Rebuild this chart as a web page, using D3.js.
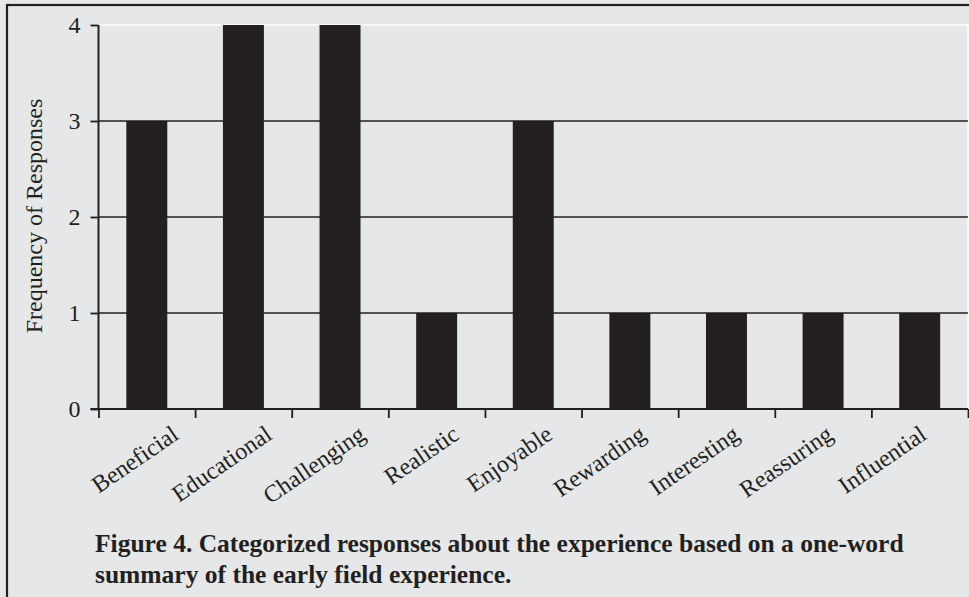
<!DOCTYPE html>
<html>
<head>
<meta charset="utf-8">
<script src="https://cdn.jsdelivr.net/npm/d3@7"></script>
<style>
  html, body { margin: 0; padding: 0; background: #e6e7e8; }
  svg { display: block; }
  text { font-family: "Liberation Serif", "Times New Roman", serif; fill: #231f20; }
</style>
</head>
<body>
<svg id="chart" width="969" height="597"></svg>
<script>
const categories = ["Beneficial", "Educational", "Challenging", "Realistic", "Enjoyable",
                    "Rewarding", "Interesting", "Reassuring", "Influential"];
const values = [3, 4, 4, 1, 3, 1, 1, 1, 1];
const yTicks = [0, 1, 2, 3, 4];
const yTitle = "Frequency of Responses";
const captionLines = [
  "Figure 4. Categorized responses about the experience based on a one-word",
  "summary of the early field experience."
];

const ink = "#231f20";
const svg = d3.select("#chart");
const W = 969, H = 597;

svg.append("rect").attr("width", W).attr("height", H).attr("fill", "#e6e7e8");
// figure frame (extends past the picture edges on right/bottom)
svg.append("rect").attr("x", 7).attr("y", 5).attr("width", W + 20).attr("height", H + 20)
  .attr("fill", "none").attr("stroke", ink).attr("stroke-width", 2.2);

const plot = { left: 98.5, right: 968, top: 25, bottom: 409 };

const x = d3.scaleBand().domain(categories).range([plot.left, plot.right])
  .paddingInner(0.576).paddingOuter(0.288);
const xEdge = d3.scaleLinear().domain([0, categories.length]).range([plot.left, plot.right]);
const y = d3.scaleLinear().domain([0, 4]).range([plot.bottom, plot.top]);
// label anchor positions (labels sit slightly compressed relative to the bands)
const xLabel = d3.scalePoint().domain(categories).range([180, 928]);

// plot frame (white)
svg.append("rect").attr("x", plot.left).attr("y", plot.top)
  .attr("width", plot.right - plot.left).attr("height", plot.bottom - plot.top)
  .attr("fill", "none").attr("stroke", "#ffffff").attr("stroke-width", 1.5);

// gridlines
svg.append("g").selectAll("line").data(yTicks.filter(t => t > 0 && t < 4)).join("line")
  .attr("x1", plot.left).attr("x2", plot.right)
  .attr("y1", d => y(d)).attr("y2", d => y(d))
  .attr("stroke", ink).attr("stroke-width", 1.6);

// bars
svg.append("g").selectAll("rect").data(categories).join("rect")
  .attr("x", d => x(d)).attr("width", x.bandwidth())
  .attr("y", (d, i) => y(values[i])).attr("height", (d, i) => y(0) - y(values[i]))
  .attr("fill", ink);

// y axis
const yAxis = svg.append("g").attr("transform", `translate(${plot.left},0)`)
  .call(d3.axisLeft(y).tickValues(yTicks).tickFormat(d3.format("d")).tickSize(8).tickPadding(10));
yAxis.select(".domain").attr("stroke", ink).attr("stroke-width", 2).attr("d", `M0,${plot.top}V${plot.bottom}`);
yAxis.selectAll(".tick line").attr("stroke", ink).attr("stroke-width", 1.8);
yAxis.selectAll(".tick text").attr("font-size", 24).attr("font-family", "Liberation Serif, Times New Roman, serif").attr("fill", ink);

// x axis
const xAxis = svg.append("g").attr("transform", `translate(0,${plot.bottom})`)
  .call(d3.axisBottom(xEdge).tickValues(d3.range(categories.length + 1)).tickFormat("").tickSize(9));
xAxis.select(".domain").attr("stroke", ink).attr("stroke-width", 2).attr("d", `M${plot.left - 8},0H${plot.right}`);
xAxis.selectAll(".tick line").attr("stroke", ink).attr("stroke-width", 1.8);

// category labels
svg.append("g").selectAll("text").data(categories).join("text")
  .attr("transform", d => `translate(${xLabel(d)},438) rotate(-34.5)`)
  .attr("text-anchor", "end")
  .attr("font-size", 24)
  .text(d => d);

// y title
svg.append("text")
  .attr("transform", "translate(42,216) rotate(-90)")
  .attr("text-anchor", "middle")
  .attr("font-size", 24)
  .text(yTitle);

// caption
svg.append("g").selectAll("text").data(captionLines).join("text")
  .attr("x", 95).attr("y", (d, i) => 552 + i * 31)
  .attr("font-size", 25.5).attr("font-weight", "bold")
  .text(d => d);
</script>
</body>
</html>
